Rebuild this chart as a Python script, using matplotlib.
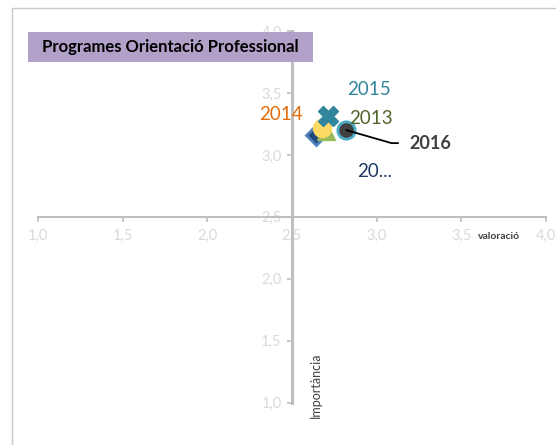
import matplotlib
matplotlib.use("Agg")
import matplotlib.pyplot as plt
from matplotlib.patches import Rectangle
from matplotlib.ticker import FuncFormatter, MultipleLocator

plt.rcParams['font.family'] = ['Lato', 'DejaVu Sans']

# ---------------- data ----------------
years = ['2017', '2013', '2014', '2015', '2016']
labels = ['20...', '2013', '2014', '2015', '2016']
valoracio = [2.64, 2.70, 2.68, 2.71, 2.82]
importancia = [3.16, 3.19, 3.22, 3.31, 3.20]

title = 'Programes Orientació Professional'
xlabel = 'valoració'
ylabel = 'Importància'

# marker styles per year (same order)
markers = ['D', '^', 'o', 'X', 'o']
faces = ['#1F497D', '#9BBB59', '#FFD966', '#31859C', '#404040']
edges = ['#4F81BD', '#9BBB59', '#FFD966', '#31859C', '#4BACC6']
msizes = [10.5, 13, 13, 15, 12.5]
label_colors = ['#1F3864', '#4F6228', '#E46C0A', '#31859C', '#404040']
# label offsets in pixels (dx, dy)
offsets = [(59, -36), (45, 13), (-42, 13), (41, 27), (84, -13)]

W, H = 556, 445
fig = plt.figure(figsize=(W / 100, H / 100), dpi=100)

# axes placed so that 1.0..4.0 spans the reference pixels
x0, x1 = 38, 546
y0, y1 = 402.7, 31
ax = fig.add_axes([x0 / W, 1 - y0 / H, (x1 - x0) / W, (y0 - y1) / H])
ax.set_xlim(1, 4)
ax.set_ylim(1, 4)
ax.patch.set_alpha(0)

# axes cross at 2.5
for s in ['top', 'right']:
    ax.spines[s].set_visible(False)
ax.spines['left'].set_position(('data', 2.5))
ax.spines['bottom'].set_position(('data', 2.5))
ax.spines['left'].set_color('#BFBFBF')
ax.spines['left'].set_linewidth(2.2)
ax.spines['bottom'].set_color('#BFBFBF')
ax.spines['bottom'].set_linewidth(1.5)

ax.xaxis.set_major_locator(MultipleLocator(0.5))
ax.yaxis.set_major_locator(MultipleLocator(0.5))
fmt = FuncFormatter(lambda v, p: ('%.1f' % v).replace('.', ','))
ax.xaxis.set_major_formatter(fmt)
ax.yaxis.set_major_formatter(fmt)
ax.tick_params(axis='both', colors='#BFBFBF', labelcolor='#D9D9D9',
               labelsize=10.5, length=3.5, width=1.2, direction='out')
ax.tick_params(axis='x', pad=5)
ax.tick_params(axis='y', pad=4)

for i in range(len(years)):
    ax.plot(valoracio[i], importancia[i], marker=markers[i], ms=msizes[i],
            mfc=faces[i], mec=edges[i], mew=2 if i in (0, 4) else 1,
            linestyle='none', zorder=3 + i)

for i in range(len(labels)):
    if labels[i] == '2016':
        ax.annotate(labels[i], (valoracio[i], importancia[i]),
                    xytext=offsets[i], textcoords='offset pixels',
                    ha='center', va='center', fontsize=13, fontweight='bold',
                    color=label_colors[i], zorder=10,
                    arrowprops=dict(arrowstyle='-', color='black', lw=1.3,
                                    relpos=(0, 0.5), shrinkA=6, shrinkB=0,
                                    connectionstyle='angle,angleA=0,angleB=-16,rad=0'))
    else:
        ax.annotate(labels[i], (valoracio[i], importancia[i]),
                    xytext=offsets[i], textcoords='offset pixels',
                    ha='center', va='center', fontsize=13.5,
                    color=label_colors[i], zorder=10)

# axis titles
ax.text(499 / W, 1 - 236 / H, xlabel, transform=fig.transFigure,
        ha='center', va='center', fontsize=7.5, fontweight='bold', color='#404040')
ax.text(316 / W, 1 - 385 / H, ylabel, transform=fig.transFigure, rotation=90,
        ha='center', va='center', fontsize=9, color='#404040')

# outer chart border
fig.patches.append(Rectangle((12 / W, -0.1), 1.2, 1 - 8 / H + 0.1,
                             transform=fig.transFigure, fill=False,
                             edgecolor='#C8C8C8', lw=1, zorder=0))

# title box
fig.patches.append(Rectangle((28 / W, 1 - 62 / H), 285 / W, 30 / H,
                             transform=fig.transFigure, facecolor='#B1A0C7',
                             edgecolor='none', zorder=5))
fig.text(170.5 / W, 1 - 47 / H, title, ha='center', va='center',
         fontsize=12, fontweight='bold', color='black', zorder=6)

fig.savefig('out.png', dpi=100)
